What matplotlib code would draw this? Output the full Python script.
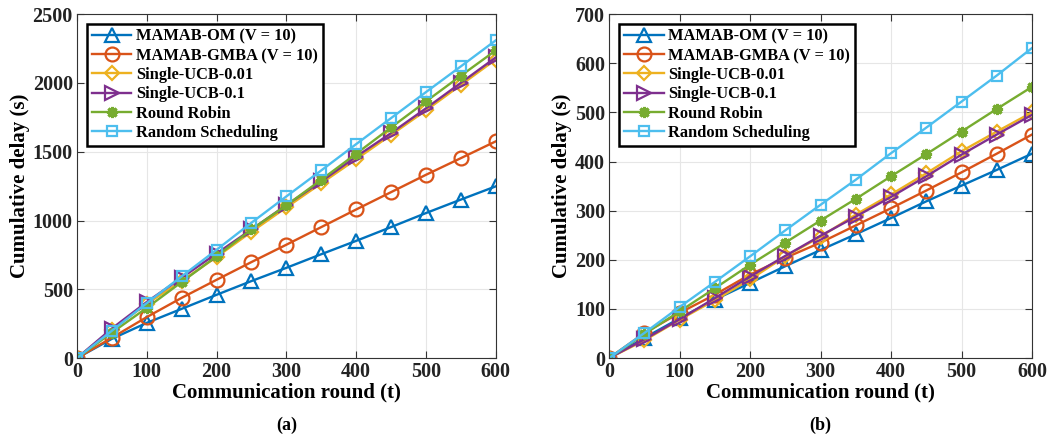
import numpy as np
import matplotlib
matplotlib.use("Agg")
import matplotlib.pyplot as plt

plt.rcParams['font.family'] = ['Liberation Serif', 'DejaVu Serif']
plt.rcParams['font.weight'] = 'bold'

rounds = [0, 50, 100, 150, 200, 250, 300, 350, 400, 450, 500, 550, 600]
labels = ["MAMAB-OM (V = 10)", "MAMAB-GMBA (V = 10)", "Single-UCB-0.01",
          "Single-UCB-0.1", "Round Robin", "Random Scheduling"]

# panel (a)
om_a = [0, 140, 256, 358, 460, 560, 656, 755, 852, 952, 1054, 1152, 1248]
gmba_a = [0, 148, 298, 438, 569, 698, 824, 952, 1080, 1206, 1332, 1453, 1575]
ucb001_a = [0, 205, 395, 560, 735, 918, 1095, 1270, 1445, 1622, 1800, 1985, 2170]
ucb01_a = [0, 215, 408, 584, 760, 935, 1112, 1284, 1464, 1635, 1815, 2000, 2185]
rr_a = [0, 185, 365, 553, 740, 935, 1110, 1296, 1485, 1676, 1865, 2052, 2236]
rand_a = [0, 199, 400, 594, 787, 984, 1175, 1364, 1555, 1744, 1933, 2120, 2309]

# panel (b)
om_b = [0, 41, 81, 119, 153, 187, 220, 252, 285, 319, 351, 383, 416]
gmba_b = [0, 51, 92, 129, 170, 204, 235, 270, 305, 341, 378, 416, 455]
ucb001_b = [0, 36, 78, 118, 160, 207, 247, 292, 333, 376, 421, 461, 500]
ucb01_b = [0, 38, 79, 122, 166, 208, 249, 288, 328, 370, 414, 455, 495]
rr_b = [0, 49, 95, 142, 190, 235, 280, 324, 370, 415, 461, 507, 552]
rand_b = [0, 51, 104, 155, 207, 260, 312, 363, 417, 469, 522, 575, 631]

colors = ['#0072BD', '#D95319', '#EDB120', '#7E2F8E', '#77AC30', '#4DBEEE']
markers = ['^', 'o', 'D', '>', 'P', 's']
msizes = [10, 10, 7.5, 10, 8, 7.5]


def draw(ax, series, ymax, ystep, tag):
    for s, c, m, ms, lab in zip(series, colors, markers, msizes, labels):
        if m == 'P':
            ax.plot(rounds, s, color=c, lw=1.7, marker=(8, 2, 0), ms=ms,
                    mew=2.2, label=lab)
        else:
            ax.plot(rounds, s, color=c, lw=1.7, marker=m, ms=ms,
                    mfc='none', mew=1.6, label=lab)
    ax.set_xlim(0, 600)
    ax.set_ylim(0, ymax)
    ax.set_xticks(range(0, 601, 100))
    ax.set_yticks(range(0, ymax + 1, ystep))
    ax.grid(True, color='#e6e6e6', lw=0.8)
    ax.set_axisbelow(True)
    ax.tick_params(direction='in', top=True, right=True, labelsize=14.5,
                   length=5, color='#333333', pad=3)
    for lbl in ax.get_xticklabels() + ax.get_yticklabels():
        lbl.set_fontweight('bold')
        lbl.set_color('#222222')
    for sp in ax.spines.values():
        sp.set_color('#333333')
        sp.set_linewidth(0.8)
    ax.set_xlabel("Communication round (t)", fontsize=15, fontweight='bold',
                  labelpad=0)
    ax.set_ylabel("Cumulative delay (s)", fontsize=15, fontweight='bold',
                  labelpad=2)
    leg = ax.legend(loc='upper left', bbox_to_anchor=(0.024, 0.972),
                    prop={'weight': 'bold', 'size': 11.8},
                    fancybox=False, framealpha=1, edgecolor='black',
                    handlelength=2.4, handletextpad=0.3, labelspacing=0.2,
                    borderpad=0.3, borderaxespad=0)
    leg.get_frame().set_linewidth(1.8)
    ax.text(0.5, -0.195, tag, transform=ax.transAxes, ha='center',
            va='center', fontsize=13, fontweight='bold')


fig = plt.figure(figsize=(10.52, 4.41), dpi=100)
ax1 = fig.add_axes([0.0732, 0.188, 0.398, 0.780])
ax2 = fig.add_axes([0.579, 0.188, 0.402, 0.780])

draw(ax1, [om_a, gmba_a, ucb001_a, ucb01_a, rr_a, rand_a], 2500, 500, "(a)")
draw(ax2, [om_b, gmba_b, ucb001_b, ucb01_b, rr_b, rand_b], 700, 100, "(b)")

fig.savefig("out.png", dpi=100)
